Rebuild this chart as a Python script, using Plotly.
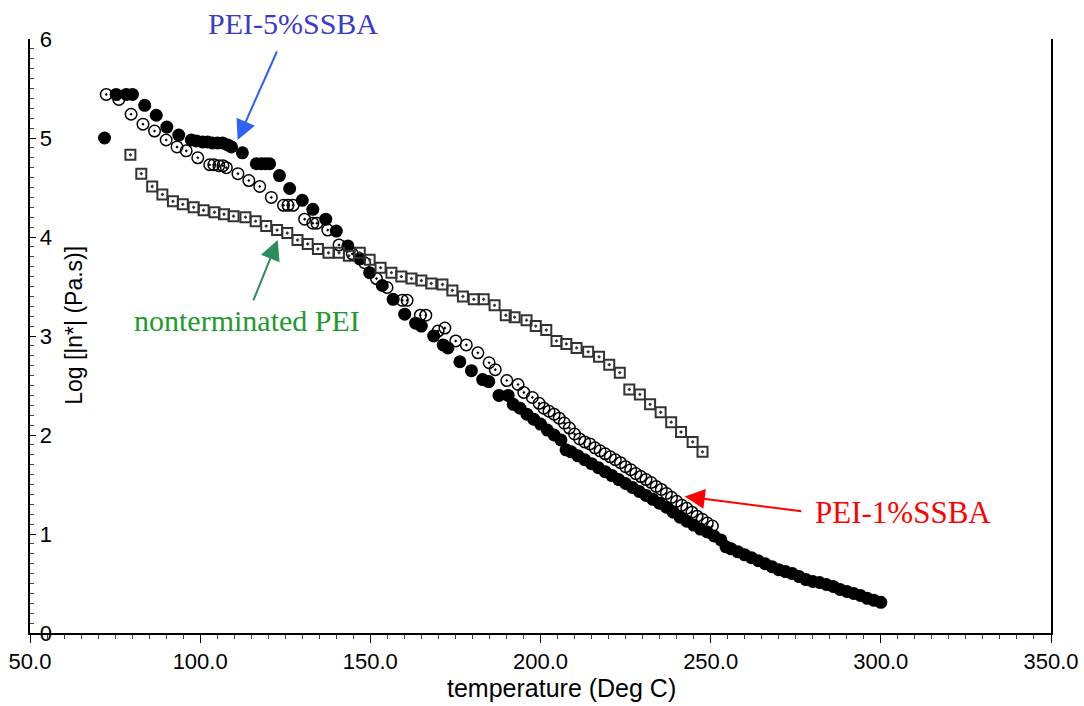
import plotly.graph_objects as go

# ---- data ----
# filled circles
filled_t = [71.9, 75.3, 78.3, 80.1, 83.7, 87.1, 90.2, 93.7, 97.4, 98.9, 100.7, 102.2, 103.6, 105.1,
            106.6, 108.1, 109.2, 112.4, 116.5, 118.0, 119.2, 120.4, 123.3, 126.3, 130.0, 133.1,
            136.9, 140.0, 143.4, 146.9, 149.8, 153.5, 156.7, 160.1, 163.3, 165.0, 168.6, 171.4,
            172.8, 176.3, 179.7, 183.0, 184.8, 187.8, 190.5,
            192, 194, 196, 198, 200, 202, 204, 206, 207.5, 209, 211, 213, 215, 217, 219, 221, 223,
            225, 227, 229, 231, 233, 235, 237, 239, 241, 243, 245, 247, 249, 251, 253, 254.5, 256,
            258, 260, 262, 264, 266, 268, 270, 272, 274, 276, 278, 280, 282, 284, 286, 288, 290,
            292, 294, 296, 298, 300]
filled_v = [5.00, 5.44, 5.44, 5.44, 5.33, 5.23, 5.11, 5.03, 4.98, 4.97, 4.96, 4.96, 4.95, 4.95,
            4.95, 4.93, 4.91, 4.85, 4.74, 4.74, 4.74, 4.74, 4.62, 4.49, 4.37, 4.28,
            4.18, 4.06, 3.91, 3.78, 3.64, 3.51, 3.37, 3.22, 3.13, 3.10, 3.00, 2.91,
            2.88, 2.74, 2.65, 2.56, 2.54, 2.40, 2.40,
            2.31, 2.27, 2.21, 2.16, 2.11, 2.05, 2.00, 1.95, 1.85, 1.83, 1.79, 1.75, 1.71, 1.67, 1.63,
            1.59, 1.55, 1.51, 1.47, 1.43, 1.39, 1.35, 1.31, 1.27, 1.22, 1.17, 1.13, 1.09, 1.05, 1.02,
            0.98, 0.94, 0.87, 0.85, 0.82, 0.79, 0.76, 0.73, 0.70, 0.67, 0.64, 0.62, 0.60, 0.57, 0.54,
            0.52, 0.51, 0.49, 0.47, 0.44, 0.42, 0.40, 0.38, 0.35, 0.33, 0.31]

# open circles
open_t = [72.4, 76.1, 79.7, 83.2, 86.6, 90.0, 93.2, 95.9, 99.3, 102.8, 104.0, 105.5, 106.7, 107.7,
          111.1, 114.3, 117.5, 120.9, 124.5, 125.8, 127.3, 130.7, 133.1, 134.3, 137.5, 140.8,
          144.7, 148.3, 151.8, 154.9, 159.4, 160.8, 164.7, 166.3, 169.9, 171.9, 175.1, 178.2,
          181.6, 184.9, 186.7, 190.1, 193.4, 195.1, 197.6, 199.6,
          201.0, 202.5, 204.0, 205.5, 207.0, 208.5, 210.0, 211.5, 213.0, 214.5, 216.0, 217.5,
          219.0, 220.5, 222.0, 223.5, 225.0, 226.5, 228.0, 229.5, 231.0, 232.5, 234.0, 235.5,
          237.0, 238.5, 240.0, 241.5, 243.0, 244.5, 246.0, 247.5, 249.0, 250.5]
open_v = [5.44, 5.39, 5.24, 5.14, 5.07, 4.98, 4.91, 4.87, 4.80, 4.73, 4.73, 4.72, 4.72, 4.70,
          4.64, 4.57, 4.51, 4.40, 4.32, 4.32, 4.32, 4.18, 4.14, 4.14, 4.07, 3.92,
          3.83, 3.74, 3.58, 3.49, 3.36, 3.36, 3.21, 3.21, 3.05, 3.08, 2.95, 2.91,
          2.83, 2.73, 2.66, 2.55, 2.51, 2.43, 2.38, 2.32,
          2.27, 2.24, 2.21, 2.17, 2.12, 2.07, 2.01, 1.96, 1.93, 1.91, 1.87, 1.84,
          1.81, 1.78, 1.75, 1.72, 1.68, 1.65, 1.61, 1.58, 1.55, 1.52, 1.48, 1.45,
          1.41, 1.37, 1.33, 1.29, 1.26, 1.22, 1.18, 1.15, 1.11, 1.08]

# open squares (nonterminated PEI)
sq_t = [79.5, 82.7, 85.9, 88.9, 92.0, 94.9, 98.1, 101.0, 104.2, 107.0, 109.8, 113.3, 116.3, 119.4,
        122.6, 125.6, 128.6, 131.6, 134.6, 137.7, 140.8, 143.7, 146.9, 149.8, 153.0, 156.2, 159.1,
        162.1, 165.0, 167.9, 171.2, 174.1, 177.2, 180.4, 183.3, 186.5, 189.8, 192.4, 195.9, 198.6,
        201.7, 204.7, 207.6, 210.6, 214.0, 217.2, 220.2, 223.3, 226.1, 229.2, 232.2, 235.3, 238.4,
        241.3, 244.7, 247.6]
sq_v = [4.83, 4.64, 4.51, 4.43, 4.36, 4.33, 4.30, 4.27, 4.25, 4.23, 4.21, 4.20, 4.16, 4.11,
        4.07, 4.04, 3.97, 3.93, 3.88, 3.84, 3.84, 3.81, 3.84, 3.77, 3.69, 3.64, 3.60,
        3.58, 3.56, 3.53, 3.52, 3.46, 3.40, 3.37, 3.37, 3.31, 3.21, 3.19, 3.16, 3.10,
        3.06, 2.95, 2.92, 2.88, 2.84, 2.79, 2.71, 2.63, 2.46, 2.41, 2.31, 2.23, 2.13,
        2.03, 1.93, 1.83]

x_ticks = [50, 100, 150, 200, 250, 300, 350]
x_tick_labels = ["50.0", "100.0", "150.0", "200.0", "250.0", "300.0", "350.0"]
y_ticks = [0, 1, 2, 3, 4, 5, 6]
y_tick_labels = ["0", "1", "2", "3", "4", "5", "6"]

SANS = "Liberation Sans, Arial, sans-serif"
SERIF = "Liberation Serif, Times New Roman, serif"

fig = go.Figure()
# squares drawn on y2 (same range as y) so that y2 carries the tick labels
fig.add_trace(go.Scatter(x=sq_t, y=sq_v, mode="markers", name="nonterminated PEI", yaxis="y2",
                         marker=dict(symbol="square-open-dot", size=10, color="#333333",
                                     line=dict(width=2, color="#333333"))))
fig.add_trace(go.Scatter(x=open_t, y=open_v, mode="markers", name="PEI-1%SSBA",
                         marker=dict(symbol="circle-open-dot", size=11.5, color="black",
                                     line=dict(width=1.5, color="black"))))
fig.add_trace(go.Scatter(x=filled_t, y=filled_v, mode="markers", name="PEI-5%SSBA",
                         marker=dict(symbol="circle", size=13, color="black",
                                     line=dict(width=0))))

fig.update_layout(
    width=1084, height=706,
    margin=dict(l=30, r=33, t=39, b=73),
    paper_bgcolor="white", plot_bgcolor="white",
    showlegend=False,
    font=dict(family=SANS, size=22, color="black"),
    xaxis=dict(range=[50, 350], tickvals=x_ticks, ticktext=x_tick_labels, automargin=False,
               showgrid=False, zeroline=False, showline=True, linecolor="black", linewidth=1.5,
               ticks="outside", ticklen=8, tickwidth=1.2, tickcolor="black",
               minor=dict(dtick=5, ticks="outside", ticklen=4, tickwidth=1, tickcolor="#444"),
               tickfont=dict(family=SANS, size=22, color="black")),
    yaxis=dict(range=[0, 6], tickvals=y_ticks, showticklabels=False, automargin=False,
               showgrid=False, zeroline=False, showline=True, linecolor="black", linewidth=1.5,
               mirror=True,
               ticks="inside", ticklen=6, tickwidth=1.2, tickcolor="black",
               minor=dict(dtick=0.1, ticks="inside", ticklen=4, tickwidth=1, tickcolor="#444")),
    yaxis2=dict(range=[0, 6], overlaying="y", anchor="free", side="left", position=0.0235,
                tickvals=y_ticks, ticktext=y_tick_labels, automargin=False,
                showgrid=False, zeroline=False, showline=False, ticks="",
                ticklabelstandoff=2,
                tickfont=dict(family=SANS, size=22, color="black")),
)

# axis titles
fig.add_annotation(text="temperature (Deg C)", xref="paper", yref="paper",
                   x=0.5208, y=-0.092, xanchor="center", yanchor="middle", showarrow=False,
                   font=dict(family=SANS, size=25, color="black"))
fig.add_annotation(text="Log [|n*| (Pa.s)]", xref="paper", yref="paper",
                   x=0.0436, y=0.518, xanchor="center", yanchor="middle", textangle=-90,
                   showarrow=False, font=dict(family=SANS, size=23, color="black"))

# labels
fig.add_annotation(text="PEI-5%SSBA", x=0.2572, y=1.0257, xref="paper", yref="paper",
                   showarrow=False, xanchor="center", yanchor="middle",
                   font=dict(family=SERIF, size=30, color="#3a3acb"))
fig.add_annotation(text="nonterminated PEI", x=113.9, y=3.16, xref="x", yref="y", showarrow=False,
                   font=dict(family=SERIF, size=30, color="#1e9a2e"))
fig.add_annotation(text="PEI-1%SSBA", x=306.5, y=1.22, xref="x", yref="y", showarrow=False,
                   font=dict(family=SERIF, size=31, color="#ff0000"))

# arrows
fig.add_annotation(text="", x=111.0, y=4.98, xref="x", yref="y", ax=40, ay=-90,
                   axref="pixel", ayref="pixel", showarrow=True, arrowhead=2, arrowsize=2,
                   arrowwidth=2, arrowcolor="#2f62f5")
fig.add_annotation(text="", x=122.8, y=3.97, xref="x", yref="y", ax=-25, ay=62,
                   axref="pixel", ayref="pixel", showarrow=True, arrowhead=2, arrowsize=2,
                   arrowwidth=2, arrowcolor="#2e8b5a")
fig.add_annotation(text="", x=242.4, y=1.38, xref="x", yref="y", ax=118, ay=15,
                   axref="pixel", ayref="pixel", showarrow=True, arrowhead=2, arrowsize=2,
                   arrowwidth=2, arrowcolor="#ff0000")

fig.write_html("out.html")
